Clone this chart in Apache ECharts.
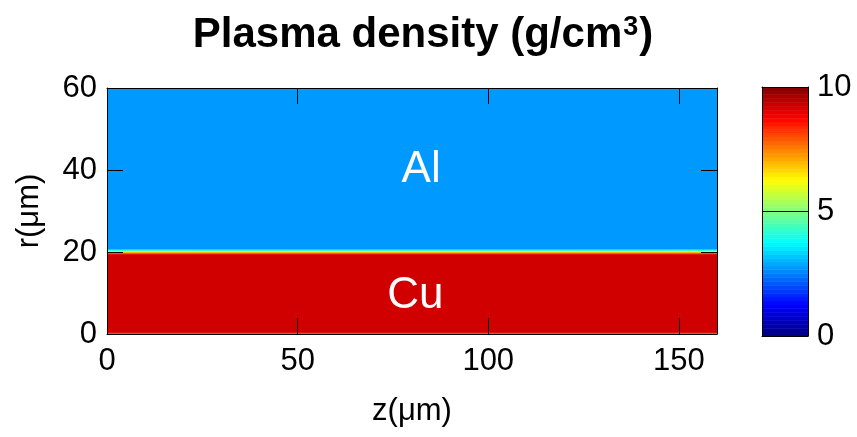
<!DOCTYPE html>
<html>
<head>
<meta charset="utf-8">
<script src="https://cdn.jsdelivr.net/npm/echarts@6/dist/echarts.min.js"></script>
<style>html,body{margin:0;padding:0;background:#fff;}#c{width:857px;height:437px;}</style>
</head>
<body>
<div id="c"></div>
<script>
// ---- data ----
const zRange = [0, 160];                       // z extent (µm)
const rEdges = [0, 0.3, 19.5, 19.75, 20.0, 20.25, 20.5, 20.75, 60];   // r band edges (µm)
const density = [7.8, 9.2, 8.2, 7.2, 6.0, 4.6, 3.6, 2.75];            // g/cm3 per band
const materialNames = ['Al', 'Cu'];
const materialZ = [82.4, 80.9];
const materialR = [40.0, 9.2];
const xTicks = [0, 50, 100, 150];
const yTicks = [0, 20, 40, 60];
const cbTicks = [0, 5, 10];
const cbRange = [0, 10];
const cbLevels = 64;

const jet = ['#000080', '#0000FF', '#0080FF', '#00FFFF', '#80FF80', '#FFFF00', '#FF8000', '#FF0000', '#800000'];
const FONT = "'Liberation Sans', Arial, sans-serif";

const fieldData = density.map((d, i) => [zRange[0], zRange[1], rEdges[i], rEdges[i + 1], d]);
const cbData = [];
for (let k = 0; k < cbLevels; k++) {
  const lo = cbRange[0] + (cbRange[1] - cbRange[0]) * k / cbLevels;
  const hi = cbRange[0] + (cbRange[1] - cbRange[0]) * (k + 1) / cbLevels;
  cbData.push([0, 1, lo, hi, (lo + hi) / 2]);
}
const textData = materialNames.map((n, i) => ({ name: n, value: [materialZ[i], materialR[i]] }));

function rectItem(params, api) {
  const p0 = api.coord([api.value(0), api.value(2)]);
  const p1 = api.coord([api.value(1), api.value(3)]);
  const c = api.visual('color');
  return {
    type: 'rect',
    shape: { x: p0[0], y: p1[1], width: p1[0] - p0[0], height: p0[1] - p1[1] },
    style: { fill: c, stroke: c, lineWidth: 0.6 }
  };
}

const lineBlack = { show: true, onZero: false, lineStyle: { color: '#000', width: 1 } };
const axisCommon = {
  axisLine: lineBlack,
  axisTick: { show: true, inside: true, length: 16, lineStyle: { color: '#000', width: 1 } },
  splitLine: { show: false },
  z: 10
};
const labelStyle = { color: '#000', fontSize: 31, fontFamily: FONT };

const chart = echarts.init(document.getElementById('c'), null, { renderer: 'canvas' });
chart.setOption({
  animation: false,
  backgroundColor: '#fff',
  title: {
    text: 'Plasma density (g/cm{sup|3})',
    left: 418, top: 9, textAlign: 'center',
    textStyle: {
      fontSize: 42, fontWeight: 'bold', color: '#000', fontFamily: FONT,
      rich: { sup: { fontSize: 27, fontWeight: 'bold', color: '#000', fontFamily: FONT, verticalAlign: 'top', padding: [0, 1, 14, 1] } }
    }
  },
  grid: [
    { left: 107, top: 88, width: 610, height: 246 },
    { left: 762, top: 87, width: 46, height: 249 }
  ],
  visualMap: {
    type: 'continuous', show: false, min: cbRange[0], max: cbRange[1],
    dimension: 4, seriesIndex: [0, 1], inRange: { color: jet }
  },
  xAxis: [
    Object.assign({}, axisCommon, {
      gridIndex: 0, type: 'value', position: 'bottom', min: zRange[0], max: zRange[1], interval: 50,
      axisLabel: Object.assign({ margin: 12, formatter: v => xTicks.includes(v) ? String(v) : '' }, labelStyle),
      name: 'z(μm)', nameLocation: 'middle', nameGap: 62,
      nameTextStyle: { color: '#000', fontSize: 31, fontFamily: FONT }
    }),
    Object.assign({}, axisCommon, {
      gridIndex: 0, type: 'value', position: 'top', min: zRange[0], max: zRange[1], interval: 50,
      axisLabel: { show: false }
    }),
    { gridIndex: 1, type: 'value', min: 0, max: 1, position: 'bottom',
      axisLine: lineBlack, axisTick: { show: false },
      axisLabel: { show: false }, splitLine: { show: false }, z: 10 },
    { gridIndex: 1, type: 'value', min: 0, max: 1, position: 'top',
      axisLine: lineBlack, axisTick: { show: false },
      axisLabel: { show: false }, splitLine: { show: false }, z: 10 }
  ],
  yAxis: [
    Object.assign({}, axisCommon, {
      gridIndex: 0, type: 'value', position: 'left', min: 0, max: 60, interval: 20,
      axisLabel: Object.assign({ margin: 10, formatter: v => yTicks.includes(v) ? String(v) : '' }, labelStyle),
      name: 'r(μm)', nameLocation: 'middle', nameGap: 62,
      nameTextStyle: { color: '#000', fontSize: 31, fontFamily: FONT }
    }),
    Object.assign({}, axisCommon, {
      gridIndex: 0, type: 'value', position: 'right', min: 0, max: 60, interval: 20,
      axisLabel: { show: false }
    }),
    { gridIndex: 1, type: 'value', position: 'right', min: cbRange[0], max: cbRange[1], interval: 5,
      axisLine: lineBlack, axisTick: { show: false },
      axisLabel: Object.assign({ margin: 9, formatter: v => cbTicks.includes(v) ? String(v) : '' }, labelStyle),
      splitLine: { show: true, lineStyle: { color: '#000', width: 1 } }, z: 10 },
    { gridIndex: 1, type: 'value', position: 'left', min: cbRange[0], max: cbRange[1], interval: 5,
      axisLine: lineBlack, axisTick: { show: false },
      axisLabel: { show: false }, splitLine: { show: false }, z: 10 }
  ],
  series: [
    { type: 'custom', xAxisIndex: 0, yAxisIndex: 0, data: fieldData, renderItem: rectItem,
      encode: { x: [0, 1], y: [2, 3] }, z: 1, clip: true },
    { type: 'custom', xAxisIndex: 2, yAxisIndex: 2, data: cbData, renderItem: rectItem,
      encode: { x: [0, 1], y: [2, 3] }, z: 1, clip: true },
    { type: 'scatter', xAxisIndex: 0, yAxisIndex: 0, data: textData, symbolSize: 0, z: 5,
      itemStyle: { opacity: 1 },
      label: { show: true, position: 'inside', formatter: p => p.name, color: '#ffffff', opacity: 1, fontSize: 44, fontFamily: FONT } }
  ]
});
</script>
</body>
</html>
